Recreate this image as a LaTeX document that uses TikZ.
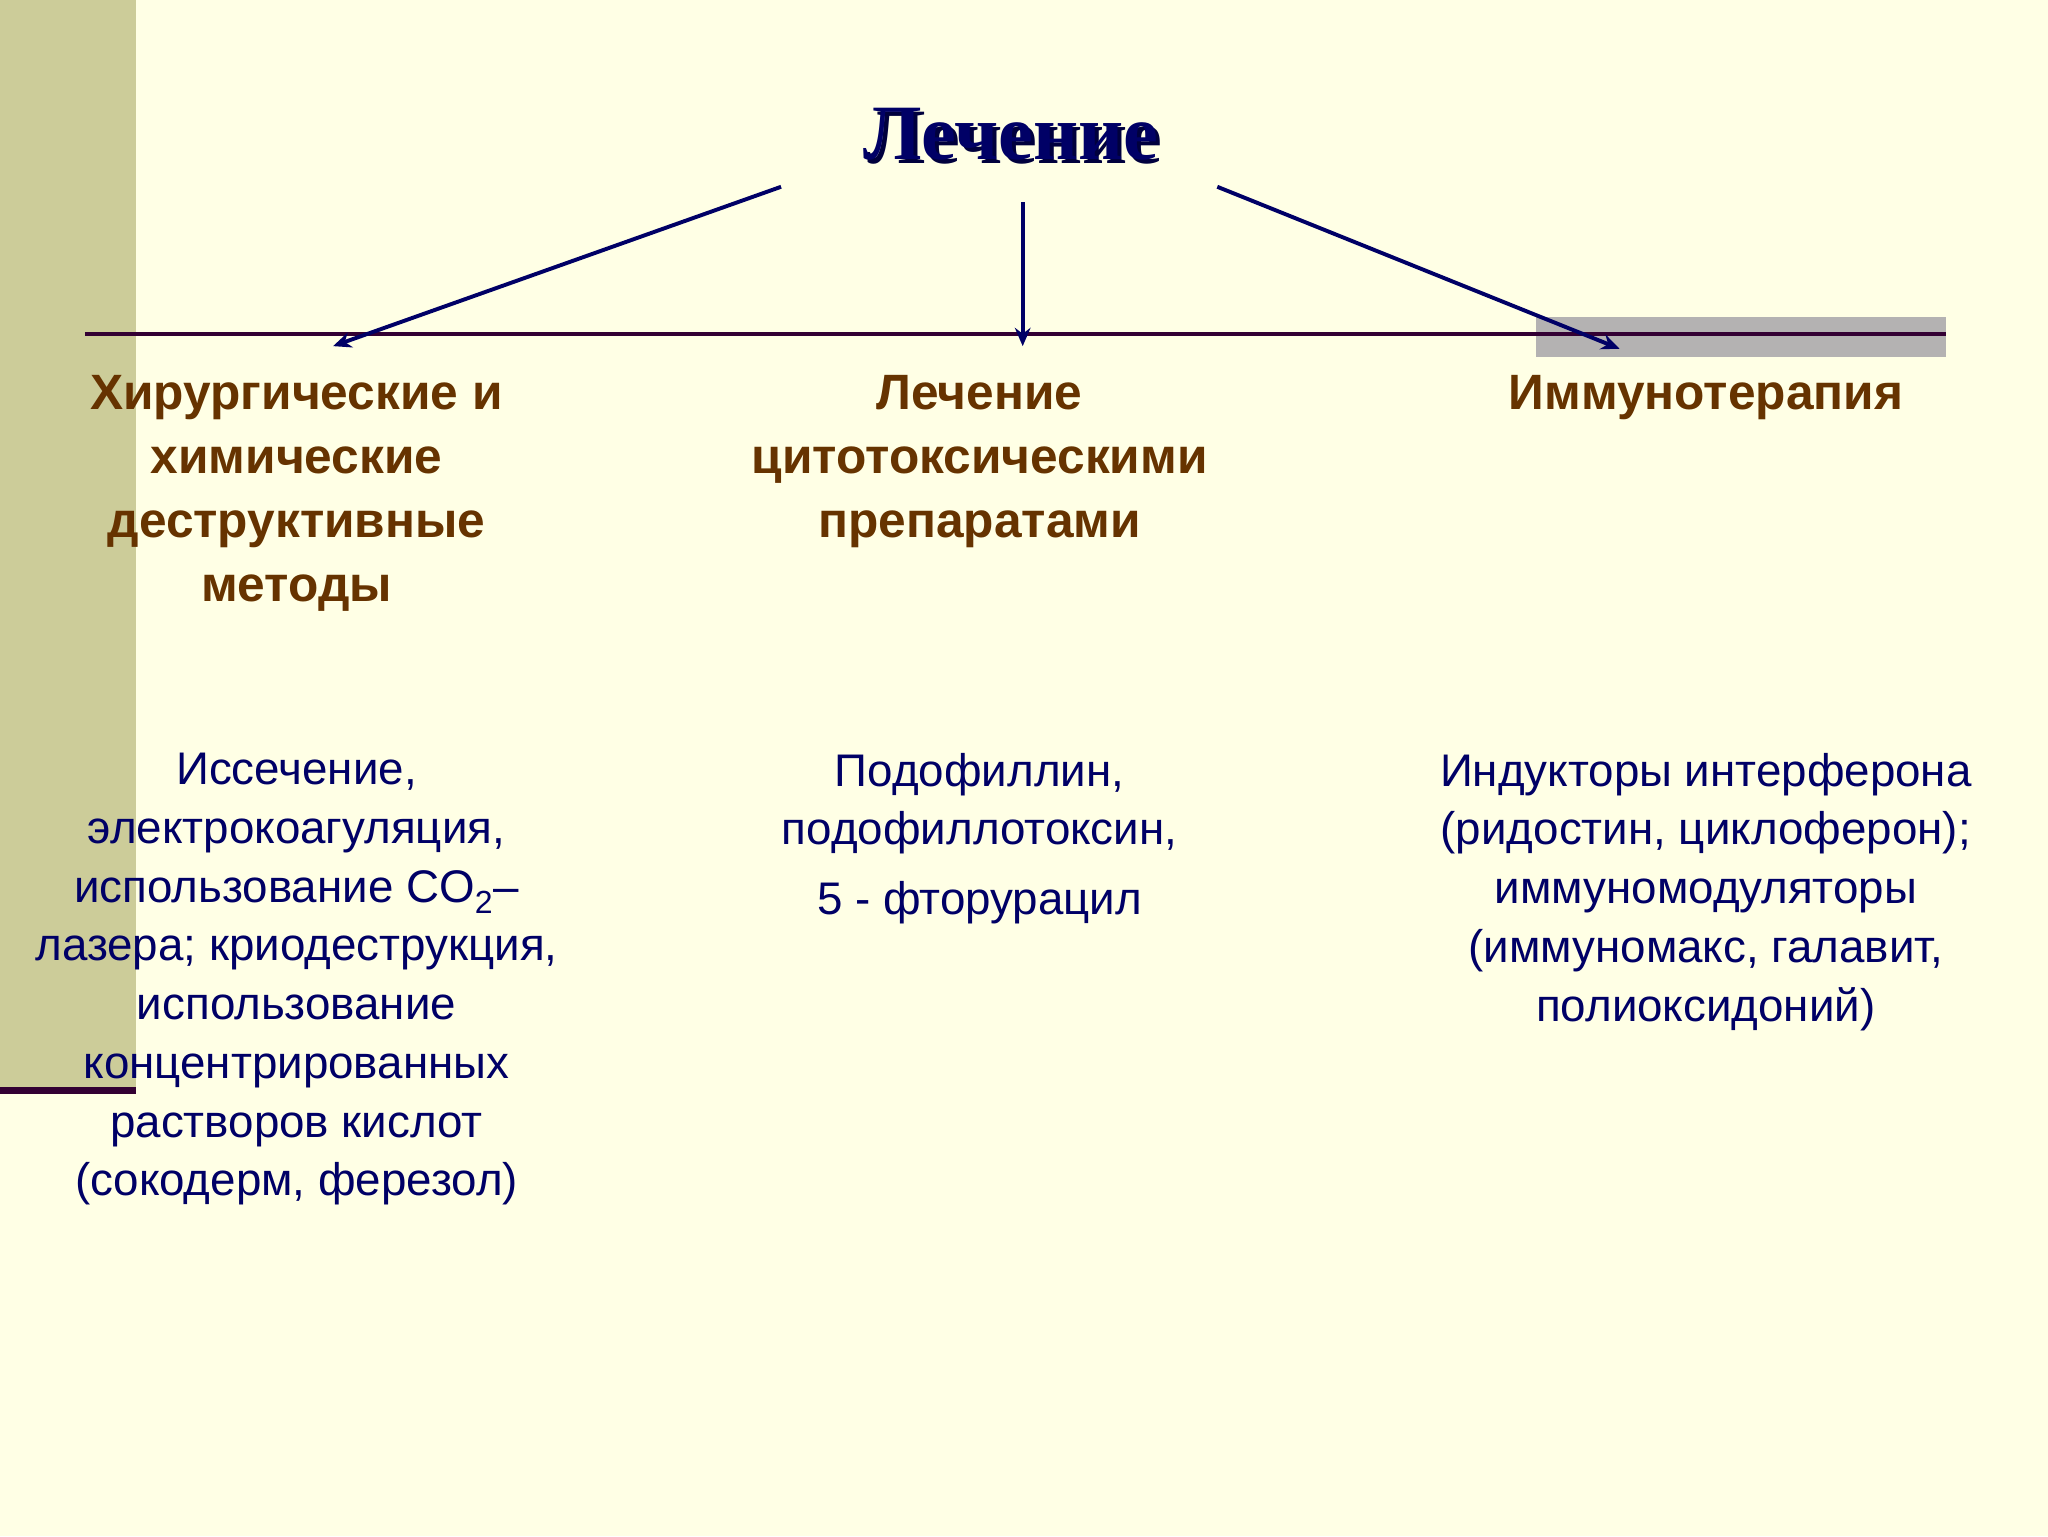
\documentclass[tikz,border=0pt]{standalone}
\usepackage{fontspec}
\setmainfont{Liberation Sans}
\newfontfamily\serifb{Liberation Serif}
\usetikzlibrary{arrows.meta}
\definecolor{bg}{HTML}{FFFFE5}
\definecolor{barc}{HTML}{CCCC99}
\definecolor{maroon}{HTML}{330033}
\definecolor{navy}{HTML}{000066}
\definecolor{brownc}{HTML}{663300}
\definecolor{grayc}{HTML}{B4B2B2}
\tikzset{
 head/.style={text=brownc,font=\fontsize{38}{49}\selectfont\bfseries,align=center,anchor=north},
 body/.style={text=navy,font=\fontsize{35}{45}\selectfont,align=center,anchor=north},
 arr/.style={draw=navy,line width=3pt,-{Stealth[length=14pt,width=12pt]}}
}
\begin{document}
\begin{tikzpicture}[x=1pt,y=-1pt]
\fill[bg] (0,0) rectangle (1568,1176);
\useasboundingbox (0,0) rectangle (1568,1176);
\fill[barc] (0,0) rectangle (104,835);
\fill[grayc] (1176,243) rectangle (1490,273);
\draw[maroon,line width=3pt] (65,256) -- (1490,256);
\draw[maroon,line width=5pt] (0,835) -- (104,835);
\node[text=navy!60!black,font=\serifb\fontsize{60}{60}\selectfont\bfseries] at (777,106) {Лечение};
\node[text=navy,font=\serifb\fontsize{60}{60}\selectfont\bfseries] (t) at (774,103) {Лечение};
\coordinate (s1) at (598,143); \coordinate (s2) at (783,155); \coordinate (s3) at (932,143);
\coordinate (e1) at (255,265); \coordinate (e2) at (783,265); \coordinate (e3) at (1240,267);
\draw[arr] (s1) -- (e1);
\draw[arr] (s2) -- (e2);
\draw[arr] (s3) -- (e3);
\node[head] (h1) at (227,284) {Хирургические и\\химические\\деструктивные\\методы};
\node[head] (h2) at (750,284) {Лечение\\цитотоксическими\\препаратами};
\node[head] (h3) at (1306,284) {Иммунотерапия};
\node[body] (b1) at (227,573) {Иссечение,\\электрокоагуляция,\\использование CO\textsubscript{2}–\\лазера; криодеструкция,\\использование\\концентрированных\\растворов кислот\\(сокодерм, ферезол)};
\node[body] (b2) at (750,573) {Подофиллин,\\подофиллотоксин,\\[8pt]5 - фторурацил};
\node[body] (b3) at (1306,573) {Индукторы интерферона\\(ридостин, циклоферон);\\иммуномодуляторы\\(иммуномакс, галавит,\\полиоксидоний)};
\end{tikzpicture}
\end{document}
